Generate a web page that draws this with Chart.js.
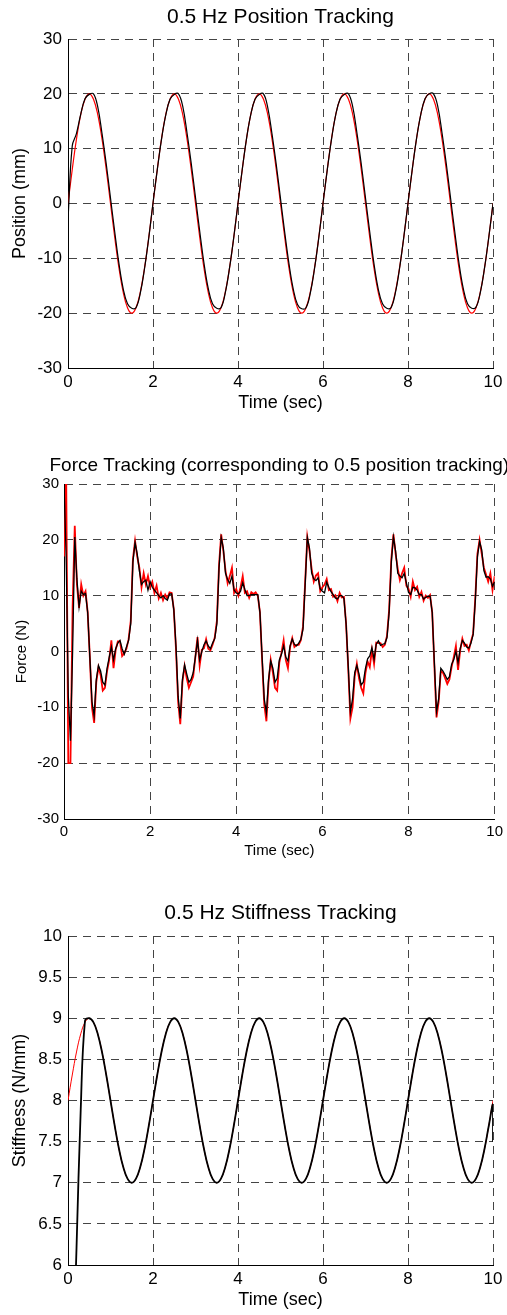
<!DOCTYPE html>
<html>
<head>
<meta charset="utf-8">
<title>0.5 Hz tracking</title>
<script src="https://cdn.jsdelivr.net/npm/chart.js@4.4.0/dist/chart.umd.min.js"></script>
<style>
  body { margin: 0; background: #fff; }
  canvas { position: absolute; left: 0; }
</style>
</head>
<body>
<canvas id="position" width="507" height="420" style="top:0px"></canvas>
<canvas id="force" width="507" height="425" style="top:440px"></canvas>
<canvas id="stiffness" width="507" height="425" style="top:890px"></canvas>
<script>
var FONT = '"Liberation Sans", Arial, Helvetica, sans-serif';

// sample times (sec)
var timeCoarse = [
  0, 0.1, 0.2, 0.3, 0.4, 0.5, 0.6, 0.7, 0.8, 0.9,
  1, 1.1, 1.2, 1.3, 1.4, 1.5, 1.6, 1.7, 1.8, 1.9,
  2, 2.1, 2.2, 2.3, 2.4, 2.5, 2.6, 2.7, 2.8, 2.9,
  3, 3.1, 3.2, 3.3, 3.4, 3.5, 3.6, 3.7, 3.8, 3.9,
  4, 4.1, 4.2, 4.3, 4.4, 4.5, 4.6, 4.7, 4.8, 4.9,
  5, 5.1, 5.2, 5.3, 5.4, 5.5, 5.6, 5.7, 5.8, 5.9,
  6, 6.1, 6.2, 6.3, 6.4, 6.5, 6.6, 6.7, 6.8, 6.9,
  7, 7.1, 7.2, 7.3, 7.4, 7.5, 7.6, 7.7, 7.8, 7.9,
  8, 8.1, 8.2, 8.3, 8.4, 8.5, 8.6, 8.7, 8.8, 8.9,
  9, 9.1, 9.2, 9.3, 9.4, 9.5, 9.6, 9.7, 9.8, 9.9,
  10
];

var timeFine = [
  0, 0.05, 0.1, 0.15, 0.2, 0.25, 0.3, 0.35, 0.4, 0.45,
  0.5, 0.55, 0.6, 0.65, 0.7, 0.75, 0.8, 0.85, 0.9, 0.95,
  1, 1.05, 1.1, 1.15, 1.2, 1.25, 1.3, 1.35, 1.4, 1.45,
  1.5, 1.55, 1.6, 1.65, 1.7, 1.75, 1.8, 1.85, 1.9, 1.95,
  2, 2.05, 2.1, 2.15, 2.2, 2.25, 2.3, 2.35, 2.4, 2.45,
  2.5, 2.55, 2.6, 2.65, 2.7, 2.75, 2.8, 2.85, 2.9, 2.95,
  3, 3.05, 3.1, 3.15, 3.2, 3.25, 3.3, 3.35, 3.4, 3.45,
  3.5, 3.55, 3.6, 3.65, 3.7, 3.75, 3.8, 3.85, 3.9, 3.95,
  4, 4.05, 4.1, 4.15, 4.2, 4.25, 4.3, 4.35, 4.4, 4.45,
  4.5, 4.55, 4.6, 4.65, 4.7, 4.75, 4.8, 4.85, 4.9, 4.95,
  5, 5.05, 5.1, 5.15, 5.2, 5.25, 5.3, 5.35, 5.4, 5.45,
  5.5, 5.55, 5.6, 5.65, 5.7, 5.75, 5.8, 5.85, 5.9, 5.95,
  6, 6.05, 6.1, 6.15, 6.2, 6.25, 6.3, 6.35, 6.4, 6.45,
  6.5, 6.55, 6.6, 6.65, 6.7, 6.75, 6.8, 6.85, 6.9, 6.95,
  7, 7.05, 7.1, 7.15, 7.2, 7.25, 7.3, 7.35, 7.4, 7.45,
  7.5, 7.55, 7.6, 7.65, 7.7, 7.75, 7.8, 7.85, 7.9, 7.95,
  8, 8.05, 8.1, 8.15, 8.2, 8.25, 8.3, 8.35, 8.4, 8.45,
  8.5, 8.55, 8.6, 8.65, 8.7, 8.75, 8.8, 8.85, 8.9, 8.95,
  9, 9.05, 9.1, 9.15, 9.2, 9.25, 9.3, 9.35, 9.4, 9.45,
  9.5, 9.55, 9.6, 9.65, 9.7, 9.75, 9.8, 9.85, 9.9, 9.95,
  10
];

// position (mm): desired (red) and measured (black)
var positionDesired = [
  0, 6.2, 11.8, 16.2, 19.0, 20, 19.0, 16.2, 11.8, 6.2,
  0, -6.2, -11.8, -16.2, -19.0, -20, -19.0, -16.2, -11.8, -6.2,
  0, 6.2, 11.8, 16.2, 19.0, 20, 19.0, 16.2, 11.8, 6.2,
  0, -6.2, -11.8, -16.2, -19.0, -20, -19.0, -16.2, -11.8, -6.2,
  0, 6.2, 11.8, 16.2, 19.0, 20, 19.0, 16.2, 11.8, 6.2,
  0, -6.2, -11.8, -16.2, -19.0, -20, -19.0, -16.2, -11.8, -6.2,
  0, 6.2, 11.8, 16.2, 19.0, 20, 19.0, 16.2, 11.8, 6.2,
  0, -6.2, -11.8, -16.2, -19.0, -20, -19.0, -16.2, -11.8, -6.2,
  0, 6.2, 11.8, 16.2, 19.0, 20, 19.0, 16.2, 11.8, 6.2,
  0, -6.2, -11.8, -16.2, -19.0, -20, -19.0, -16.2, -11.8, -6.2,
  0
];
var positionMeasured = [
  -3, 10.5, 12.8, 16.3, 19.1, 19.9, 20, 17.6, 12.8, 7.2,
  1.0, -5.2, -11.0, -15.6, -18.3, -19.1, -19.0, -16.4, -11.9, -6.3,
  0.1, 6.1, 11.7, 16.1, 19.0, 19.9, 20, 17.7, 12.9, 7.3,
  1.1, -5.1, -10.9, -15.5, -18.3, -19.1, -19.0, -16.3, -11.8, -6.2,
  0.1, 6.2, 11.8, 16.2, 19.0, 19.9, 20, 17.5, 12.7, 7.1,
  0.9, -5.3, -11.0, -15.6, -18.4, -19.2, -19.0, -16.4, -11.9, -6.3,
  0, 6.1, 11.7, 16.2, 19.0, 19.9, 20, 17.6, 12.8, 7.2,
  1.0, -5.2, -11.0, -15.6, -18.3, -19.1, -19.0, -16.4, -11.9, -6.2,
  0.1, 6.2, 11.8, 16.2, 19.1, 20, 20, 17.7, 12.9, 7.3,
  1.1, -5.1, -10.9, -15.5, -18.3, -19.1, -18.9, -16.3, -11.8, -6.2,
  0
];

// force (N): desired (red) and measured (black)
var forceDesired = [
  17, 32, -20, -20, 8, 22.5, 12, 7.8, 12, 10,
  10.8, 7, -1, -10, -12.8, -5.5, -2.8, -4.2, -7, -6.5,
  -3.5, -1.5, 2, -3, 0.3, 1.8, 1.8, -0.8, -0.3, 0.5,
  2.2, 5.5, 16.5, 19.8, 17, 15, 11.5, 14, 12, 13.5,
  11.5, 12.5, 10.5, 11.8, 9.5, 10.5, 9.2, 10.2, 9.5, 10.6,
  10.5, 7.5, 0.5, -9, -13, -5.5, -2.6, -4.8, -6.5, -5.5,
  -4.5, -1, 2.6, -2.5, 0.3, 0.6, 2.2, 0.5, 0.2, 1.2,
  2.5, 5.5, 15.5, 21, 18, 14.5, 12.2, 13.5, 15, 10.5,
  11.2, 10, 11.5, 13.5, 10.5, 10.8, 9.6, 10.6, 10.3, 10.6,
  10, 7, -1.5, -9.5, -12.5, -5.5, -1.5, -3.8, -6.5, -7,
  -2, -0.2, 2, -1.5, -3, 0.8, 2.4, 0.8, 1.2, 1.2,
  2, 4.5, 12.5, 20.5, 18, 14.8, 12.5, 13.6, 14, 10.8,
  11.5, 12, 13, 11, 11.2, 9.8, 10.1, 9, 10.5, 9.7,
  9.8, 5, -3, -12, -10, -4.5, -2.2, -4.8, -6.5, -7.5,
  -3.8, -1.8, -2.8, 0.3, -2.2, 1.6, 1.5, 1.5, 0.8, 1.2,
  2.8, 7.5, 16.5, 21, 17.5, 14.8, 12.8, 14, 15, 11.8,
  11.2, 9.8, 12.5, 11, 11.6, 9.8, 10.7, 9.1, 10, 9.6,
  10.1, 7, -2.5, -11.8, -9, -3.5, -3.8, -4.8, -5.8, -5,
  -2.8, -1, 1, -3.3, 0.2, 2.3, 1, 1.2, 0.2, 1.8,
  3.2, 9.5, 17.5, 20, 17.5, 15, 13.8, 12.5, 14, 11,
  13.5
];
var forceMeasured = [
  30, 17, -8, -16, 0, 20.5, 13, 8, 10.8, 10.2,
  10.4, 7, -1, -9, -11.5, -5, -2.5, -3.5, -5.5, -6,
  -3, -1, 0.8, -1.5, 0.5, 1.5, 2, 0.5, -0.5, 0.8,
  2, 5, 16, 19.5, 17.5, 14.5, 12, 12.5, 12.8, 11,
  12.5, 11.5, 11, 10.5, 10, 9.6, 10, 9.5, 9.2, 10.3,
  10.3, 7.5, 1, -8, -12, -5, -2.4, -4, -5.5, -5,
  -3.8, -1, 2, -1.5, 0, 1.2, 1.9, 1, 0.5, 1.5,
  2.3, 5, 15, 20.4, 18.5, 14, 12.9, 12.2, 13.5, 11,
  10.5, 10.3, 10.8, 12.3, 11.1, 10, 10, 10.2, 10.2, 10.2,
  10.2, 7, -1, -8.5, -11, -5, -1.7, -3, -5.5, -4.8,
  -1.5, -0.5, 1, -1, -1.7, 1, 2.2, 1.3, 1, 1.5,
  2.2, 4, 12, 20.4, 18.5, 14.1, 13, 12.7, 13.2, 11.2,
  10.8, 10.5, 12.4, 11.5, 10.7, 10.2, 9.6, 9.4, 10, 10,
  9.5, 5, -2.6, -10.8, -8.5, -3.8, -2.5, -4, -6, -5.5,
  -3, -1.3, -0.8, 0.7, -1.4, 1.3, 1.9, 1.1, 1.3, 1.4,
  2.5, 7, 16, 20.5, 18, 14, 13.5, 13.2, 14, 12.3,
  10.6, 10.2, 11.5, 11.4, 11, 10.2, 10.2, 9.4, 9.7, 9.9,
  9.9, 7, -2, -10.8, -8.5, -3, -3.5, -4.2, -5, -4.5,
  -2.3, -1.5, 0, -2, 0.5, 2, 1.5, 0.8, 0.6, 1.5,
  3, 9, 17, 19.7, 18.2, 14.5, 13.3, 13.4, 13, 11.7,
  12.5
];

// stiffness (N/mm): desired (red) and measured (black)
var stiffnessDesired = [
  8, 8.31, 8.59, 8.81, 8.95, 9, 8.95, 8.81, 8.59, 8.31,
  8, 7.69, 7.41, 7.19, 7.05, 7, 7.05, 7.19, 7.41, 7.69,
  8, 8.31, 8.59, 8.81, 8.95, 9, 8.95, 8.81, 8.59, 8.31,
  8, 7.69, 7.41, 7.19, 7.05, 7, 7.05, 7.19, 7.41, 7.69,
  8, 8.31, 8.59, 8.81, 8.95, 9, 8.95, 8.81, 8.59, 8.31,
  8, 7.69, 7.41, 7.19, 7.05, 7, 7.05, 7.19, 7.41, 7.69,
  8, 8.31, 8.59, 8.81, 8.95, 9, 8.95, 8.81, 8.59, 8.31,
  8, 7.69, 7.41, 7.19, 7.05, 7, 7.05, 7.19, 7.41, 7.69,
  8, 8.31, 8.59, 8.81, 8.95, 9, 8.95, 8.81, 8.59, 8.31,
  8, 7.69, 7.41, 7.19, 7.05, 7, 7.05, 7.19, 7.41, 7.69,
  8
];
var stiffnessMeasured = [
  null, 4.5, 6.2, 7.9, 8.97, 9, 8.95, 8.81, 8.59, 8.31,
  8, 7.69, 7.41, 7.19, 7.05, 7, 7.05, 7.19, 7.41, 7.69,
  8, 8.31, 8.59, 8.81, 8.95, 9, 8.95, 8.81, 8.59, 8.31,
  8, 7.69, 7.41, 7.19, 7.05, 7, 7.05, 7.19, 7.41, 7.69,
  8, 8.31, 8.59, 8.81, 8.95, 9, 8.95, 8.81, 8.59, 8.31,
  8, 7.69, 7.41, 7.19, 7.05, 7, 7.05, 7.19, 7.41, 7.69,
  8, 8.31, 8.59, 8.81, 8.95, 9, 8.95, 8.81, 8.59, 8.31,
  8, 7.69, 7.41, 7.19, 7.05, 7, 7.05, 7.19, 7.41, 7.69,
  8, 8.31, 8.59, 8.81, 8.95, 9, 8.95, 8.81, 8.59, 8.31,
  8, 7.69, 7.41, 7.19, 7.05, 7, 7.05, 7.19, 7.41, 7.69,
  7.95
];
// the measured stiffness drops at the very end of the run
var stiffnessEndTime = [10];
var stiffnessEndValue = [7.5];

var xTicks = [0, 2, 4, 6, 8, 10];

function points(xs, ys) {
  return xs.map(function (x, i) { return { x: x, y: ys[i] }; });
}

// title centred over the plot area (the force title is wider than the axes)
var plotTitle = {
  id: 'plotTitle',
  afterDraw: function (chart, args, opts) {
    var ctx = chart.ctx;
    var area = chart.chartArea;
    ctx.save();
    ctx.font = opts.size + 'px ' + FONT;
    ctx.fillStyle = '#000';
    ctx.textAlign = 'center';
    ctx.textBaseline = 'middle';
    ctx.fillText(opts.text, (area.left + area.right) / 2, opts.y);
    ctx.restore();
  }
};

function makeOptions(c) {
  return {
    responsive: false,
    animation: false,
    events: [],
    layout: { padding: { top: c.top, right: c.right, left: 0, bottom: 0 } },
    plugins: {
      legend: { display: false },
      tooltip: { enabled: false },
      plotTitle: { text: c.title, size: c.titleSize, y: c.titleY }
    },
    scales: {
      x: {
        type: 'linear',
        min: 0,
        max: 10,
        afterFit: function (s) { s.height = c.xHeight; },
        afterBuildTicks: function (s) { s.ticks = xTicks.map(function (v) { return { value: v }; }); },
        ticks: {
          color: '#000',
          padding: 4,
          maxRotation: 0,
          autoSkip: false,
          font: { family: FONT, size: c.tickSize },
          callback: function (v) { return String(v); }
        },
        grid: { color: '#444', lineWidth: 1, drawTicks: false },
        border: { color: '#000', width: 1, dash: [8, 6] },
        title: {
          display: true,
          text: 'Time (sec)',
          color: '#000',
          font: { family: FONT, size: c.labelSize },
          padding: { top: 0, bottom: c.xTitlePad }
        }
      },
      y: {
        min: c.yMin,
        max: c.yMax,
        afterFit: function (s) { s.width = c.yWidth; },
        ticks: {
          stepSize: c.yStep,
          color: '#000',
          padding: c.yTickPad,
          font: { family: FONT, size: c.tickSize },
          callback: function (v) { return String(v); }
        },
        grid: { color: '#444', lineWidth: 1, drawTicks: false },
        border: { color: '#000', width: 1, dash: [8, 6] },
        title: {
          display: true,
          text: c.yLabel,
          color: '#000',
          font: { family: FONT, size: c.labelSize },
          padding: { top: c.yTitlePad, bottom: 0 }
        }
      }
    }
  };
}

new Chart(document.getElementById('position').getContext('2d'), {
  type: 'line',
  data: {
    datasets: [
      {
        label: 'Measured',
        data: points(timeCoarse, positionMeasured),
        borderColor: '#000000',
        borderWidth: 1.2,
        pointRadius: 0,
        tension: 0.4,
        fill: false
      },
      {
        label: 'Desired',
        data: points(timeCoarse, positionDesired),
        borderColor: '#ff0000',
        borderWidth: 1.2,
        pointRadius: 0,
        tension: 0.4,
        fill: false
      }
    ]
  },
  options: makeOptions({
    title: '0.5 Hz Position Tracking', titleSize: 21, titleY: 17,
    top: 39, right: 14, yWidth: 68, xHeight: 52,
    tickSize: 17, labelSize: 18, xTitlePad: 6, yTitlePad: 9, yTickPad: 6,
    yMin: -30, yMax: 30, yStep: 10, yLabel: 'Position (mm)'
  }),
  plugins: [plotTitle]
});

new Chart(document.getElementById('force').getContext('2d'), {
  type: 'line',
  data: {
    datasets: [
      {
        label: 'Measured',
        data: points(timeFine, forceMeasured),
        borderColor: '#000000',
        borderWidth: 1.3,
        pointRadius: 0,
        tension: 0,
        fill: false
      },
      {
        label: 'Desired',
        data: points(timeFine, forceDesired),
        borderColor: '#ff0000',
        borderWidth: 1.8,
        pointRadius: 0,
        tension: 0,
        fill: false
      }
    ]
  },
  options: makeOptions({
    title: 'Force Tracking (corresponding to 0.5 position tracking)', titleSize: 19, titleY: 26,
    top: 44, right: 9, yWidth: 64, xHeight: 46,
    tickSize: 15, labelSize: 15, xTitlePad: 5, yTitlePad: 12.5, yTickPad: 5,
    yMin: -30, yMax: 30, yStep: 10, yLabel: 'Force (N)'
  }),
  plugins: [plotTitle]
});

new Chart(document.getElementById('stiffness').getContext('2d'), {
  type: 'line',
  data: {
    datasets: [
      {
        label: 'Measured',
        data: points(timeCoarse, stiffnessMeasured).concat(points(stiffnessEndTime, stiffnessEndValue)),
        borderColor: '#000000',
        borderWidth: 1.8,
        pointRadius: 0,
        tension: 0.4,
        fill: false
      },
      {
        label: 'Desired',
        data: points(timeCoarse, stiffnessDesired),
        borderColor: '#ff0000',
        borderWidth: 1,
        pointRadius: 0,
        tension: 0.4,
        fill: false
      }
    ]
  },
  options: makeOptions({
    title: '0.5 Hz Stiffness Tracking', titleSize: 21, titleY: 23,
    top: 46, right: 14, yWidth: 68, xHeight: 50,
    tickSize: 17, labelSize: 18, xTitlePad: 4, yTitlePad: 9.5, yTickPad: 6,
    yMin: 6, yMax: 10, yStep: 0.5, yLabel: 'Stiffness (N/mm)'
  }),
  plugins: [plotTitle]
});
</script>
</body>
</html>
